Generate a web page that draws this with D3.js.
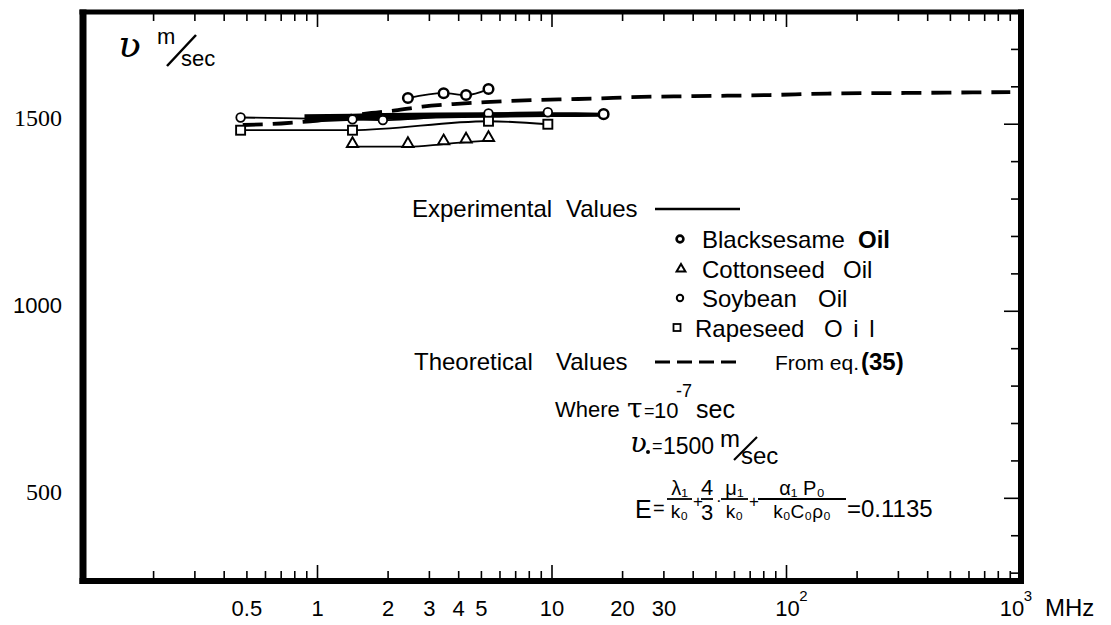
<!DOCTYPE html>
<html><head><meta charset="utf-8">
<script src="https://cdn.jsdelivr.net/npm/d3@7"></script>
<style>body{margin:0;background:#fff} svg{display:block}</style>
</head><body>
<svg id="c" width="1111" height="625"></svg>
<script>
// ---------------- data ----------------
const xTickLabels = [0.5, 1, 2, 3, 4, 5, 10, 20, 30];
const yTickLabels = [1500, 1000, 500];

// Theoretical values (dashed), frequency MHz / velocity m/sec
const theoF = [0.48, 0.7, 1.0, 1.3, 1.7, 2.15, 2.8, 3.8, 5.2, 6.5, 8.8, 12, 16, 21, 40, 85, 150, 400, 900];
const theoV = [1498, 1502, 1510, 1520, 1530, 1537, 1547, 1554, 1559, 1562, 1565, 1567, 1569, 1572, 1575, 1578, 1582, 1584, 1586];

// Experimental values
const blackF = [2.43, 3.45, 4.3, 5.36];
const blackV = [1570, 1583, 1578, 1594];
const blackHighF = [16.6];
const blackHighV = [1527];
const cottonF = [1.41, 2.43, 3.45, 4.3, 5.36];
const cottonV = [1440, 1440, 1447, 1452, 1456];
const soyF = [0.47, 1.41, 1.9, 5.36, 9.6];
const soyV = [1518, 1513, 1511, 1529, 1532];
const rapeF = [0.47, 1.41, 5.36, 9.6];
const rapeV = [1484, 1484, 1508, 1500];
// heavy overlapping experimental curves (band)
const bandF = [0.88, 1.41, 1.9, 5.36, 9.6, 16.6];
const bandTop = [1527, 1528, 1530, 1532, 1532, 1531];
const bandBottom = [1504, 1509, 1512, 1517, 1519, 1520];

// ---------------- chart ----------------
const svg = d3.select('#c');
svg.append('rect').attr('width', 1111).attr('height', 625).attr('fill', '#fff');

const x = d3.scaleLog().domain([0.1, 1000]).range([83, 1021]);
const y = d3.scaleLinear().domain([279, 1800]).range([581, 12]);

const SANS = "'Liberation Sans', Arial, sans-serif";
const SERIF = "'Liberation Serif', 'Times New Roman', serif";

const L = x(0.1), R = x(1000), T = y(1800), B = y(279);
// frame drawn as filled bars
const frame = svg.append('g').attr('fill', '#000');
frame.append('rect').attr('x', L - 3.5).attr('y', T - 2.5).attr('width', 7).attr('height', B - T + 5.5);
frame.append('rect').attr('x', L - 3.5).attr('y', T - 2.5).attr('width', R - L + 6.5).attr('height', 5);
frame.append('rect').attr('x', R - 3).attr('y', T - 2.5).attr('width', 6).attr('height', B - T + 5.5);
frame.append('rect').attr('x', L - 3.5).attr('y', B - 3).attr('width', R - L + 6.5).attr('height', 6);

// log ticks top & bottom
const minor = [];
[0.1, 1, 10, 100].forEach(d => { for (let k = 2; k <= 9; k++) minor.push(d * k); });
const major = [1, 10, 100];
const tg = svg.append('g').attr('stroke', '#000').attr('stroke-width', 1.6);
tg.selectAll('.bm').data(minor).join('line')
  .attr('x1', d => x(d)).attr('x2', d => x(d)).attr('y1', B - 3).attr('y2', B - 10);
tg.selectAll('.bM').data(major).join('line')
  .attr('x1', d => x(d)).attr('x2', d => x(d)).attr('y1', B - 3).attr('y2', B - 16);
tg.selectAll('.tm').data(minor).join('line')
  .attr('x1', d => x(d)).attr('x2', d => x(d)).attr('y1', T + 2).attr('y2', T + 9);
tg.selectAll('.tM').data(major).join('line')
  .attr('x1', d => x(d)).attr('x2', d => x(d)).attr('y1', T + 2).attr('y2', T + 15);
// right side ticks
const rTicks = d3.range(300, 1800, 100);
tg.selectAll('.rt').data(rTicks).join('line')
  .attr('x1', R - 2).attr('x2', d => (d % 500 === 0) ? R - 17 : R - 10)
  .attr('y1', d => y(d)).attr('y2', d => y(d));

// x tick labels
const xl = svg.append('g').attr('font-family', SANS).attr('font-size', 22).attr('text-anchor', 'middle');
xl.selectAll('text').data(xTickLabels).join('text')
  .attr('x', d => x(d)).attr('y', 616).text(d => String(d));
xl.append('text').attr('x', x(100) + 1).attr('y', 616).text('10');
xl.append('text').attr('x', x(100) + 17).attr('y', 601).attr('font-size', 15).text('2');
xl.append('text').attr('x', x(1000) - 9).attr('y', 616).text('10');
xl.append('text').attr('x', x(1000) + 7).attr('y', 601).attr('font-size', 15).text('3');
xl.append('text').attr('x', x(1000) + 24).attr('y', 616).attr('font-size', 24).attr('text-anchor', 'start').text('MHz');

// y tick labels
svg.append('g').attr('text-anchor', 'end')
  .selectAll('text').data(yTickLabels).join('text')
  .attr('font-family', d => d === 1000 ? SANS : SERIF)
  .attr('font-size', d => d === 1000 ? 22 : 24)
  .attr('x', 62).attr('y', d => y(d) + 2).text(d => d);

// axis title  ʋ m/sec
const at = svg.append('g').attr('font-family', SANS);
at.append('text').attr('x', 118).attr('y', 57).attr('font-size', 38).attr('font-family', "'DejaVu Serif', serif").attr('font-style', 'italic').text('ʋ');
at.append('text').attr('x', 157).attr('y', 44).attr('font-size', 22).text('m');
at.append('line').attr('x1', 167).attr('y1', 66).attr('x2', 196).attr('y2', 35).attr('stroke', '#000').attr('stroke-width', 2.5);
at.append('text').attr('x', 181).attr('y', 66).attr('font-size', 22).text('sec');

// ---------------- marks ----------------
const plot = svg.append('g');
const line = d3.line().x(d => x(d[0])).y(d => y(d[1])).curve(d3.curveMonotoneX);
const zip = (a, b) => a.map((v, i) => [v, b[i]]);

// thin experimental curves
[[soyF, soyV], [rapeF, rapeV], [cottonF, cottonV], [blackF, blackV]].forEach(([f, v]) => {
  plot.append('path').attr('d', line(zip(f, v))).attr('fill', 'none')
    .attr('stroke', '#000').attr('stroke-width', 1.8);
});
// heavy band
const area = d3.area().x(d => x(d[0])).y0(d => y(d[1])).y1(d => y(d[2])).curve(d3.curveMonotoneX);
plot.append('path').attr('d', area(bandF.map((f, i) => [f, bandBottom[i], bandTop[i]])))
  .attr('fill', '#000');

// theoretical dashed
plot.append('path').attr('d', line(zip(theoF, theoV))).attr('fill', 'none')
  .attr('stroke', '#000').attr('stroke-width', 3.8).attr('stroke-dasharray', '20 10');

// markers
const mk = svg.append('g').attr('fill', '#fff').attr('stroke', '#000');
mk.selectAll('.bc').data(zip(blackF, blackV).concat(zip(blackHighF, blackHighV))).join('circle')
  .attr('cx', d => x(d[0])).attr('cy', d => y(d[1])).attr('r', 4.8).attr('stroke-width', 2.5);
mk.selectAll('.sc').data(zip(soyF, soyV)).join('circle')
  .attr('cx', d => x(d[0])).attr('cy', d => y(d[1])).attr('r', 4.3).attr('stroke-width', 1.8);
mk.selectAll('.rs').data(zip(rapeF, rapeV)).join('rect')
  .attr('x', d => x(d[0]) - 4.5).attr('y', d => y(d[1]) - 4.5).attr('width', 9).attr('height', 9)
  .attr('stroke-width', 1.9);
const tri = d3.symbol().type(d3.symbolTriangle).size(55);
mk.selectAll('.ct').data(zip(cottonF, cottonV)).join('path')
  .attr('d', tri).attr('transform', d => `translate(${x(d[0])},${y(d[1]) - 3})`).attr('stroke-width', 1.9);

// ---------------- legend / annotations ----------------
const lg = svg.append('g').attr('font-family', SANS).attr('font-size', 24).attr('fill', '#000');
lg.append('text').attr('x', 412).attr('y', 217).text('Experimental');
lg.append('text').attr('x', 566).attr('y', 217).text('Values');
lg.append('line').attr('x1', 655).attr('x2', 740).attr('y1', 209).attr('y2', 209).attr('stroke', '#000').attr('stroke-width', 2.5);

const items = [
  {name: 'Blacksesame', oil: 'Oil', ox: 858, by: 248, m: 'bc'},
  {name: 'Cottonseed', oil: 'Oil', ox: 843, by: 278, m: 'tri'},
  {name: 'Soybean', oil: 'Oil', ox: 818, by: 307, m: 'sc'},
  {name: 'Rapeseed', oil: 'O i l', ox: 824, by: 337, m: 'sq'}
];
items.forEach(it => {
  const cy = it.by - 9;
  if (it.m === 'bc') lg.append('circle').attr('cx', 680).attr('cy', cy).attr('r', 3.4).attr('fill', '#fff').attr('stroke', '#000').attr('stroke-width', 2.6);
  if (it.m === 'sc') lg.append('circle').attr('cx', 680).attr('cy', cy).attr('r', 3.2).attr('fill', '#fff').attr('stroke', '#000').attr('stroke-width', 2);
  if (it.m === 'tri') lg.append('path').attr('d', d3.symbol().type(d3.symbolTriangle).size(34)()).attr('transform', `translate(681,${cy})`).attr('fill', '#fff').attr('stroke', '#000').attr('stroke-width', 2);
  if (it.m === 'sq') lg.append('rect').attr('x', 673.5).attr('y', cy - 4).attr('width', 7).attr('height', 7).attr('fill', '#fff').attr('stroke', '#000').attr('stroke-width', 1.8);
  lg.append('text').attr('x', it.m === 'sq' ? 695 : 702).attr('y', it.by).text(it.name);
  lg.append('text').attr('x', it.ox).attr('y', it.by).attr('font-weight', it.m === 'bc' ? 'bold' : 'normal')
    .attr('letter-spacing', it.m === 'sq' ? 2 : 0).text(it.oil);
});

lg.append('text').attr('x', 414).attr('y', 370).text('Theoretical');
lg.append('text').attr('x', 556).attr('y', 370).text('Values');
lg.append('line').attr('x1', 655).attr('x2', 740).attr('y1', 362).attr('y2', 362).attr('stroke', '#000').attr('stroke-width', 3).attr('stroke-dasharray', '15 7');
lg.append('text').attr('x', 775).attr('y', 370).attr('font-size', 21).text('From eq.');
lg.append('text').attr('x', 861).attr('y', 370).attr('font-weight', 'bold').text('(35)');

// Where tau = 10^-7 sec
const an = svg.append('g').attr('font-family', SANS).attr('fill', '#000');
an.append('text').attr('x', 555).attr('y', 417).attr('font-size', 22).text('Where');
an.append('text').attr('x', 627).attr('y', 418).attr('font-size', 28).attr('font-family', "'DejaVu Serif', serif").text('τ');
an.append('text').attr('x', 644).attr('y', 417).attr('font-size', 18).text('=');
an.append('text').attr('x', 654).attr('y', 418).attr('font-size', 22).text('10');
an.append('text').attr('x', 676).attr('y', 397).attr('font-size', 18).text('-7');
an.append('text').attr('x', 696).attr('y', 418).attr('font-size', 25).text('sec');

// v0 = 1500 m/sec
an.append('text').attr('x', 630).attr('y', 452).attr('font-size', 28).attr('font-family', "'DejaVu Serif', serif").attr('font-style', 'italic').text('ʋ');
an.append('circle').attr('cx', 648).attr('cy', 452).attr('r', 2).attr('fill', '#000');
an.append('text').attr('x', 652).attr('y', 452).attr('font-size', 18).text('=');
an.append('text').attr('x', 663).attr('y', 454).attr('font-size', 23).text('1500');
an.append('text').attr('x', 720).attr('y', 447).attr('font-size', 24).text('m');
an.append('line').attr('x1', 734).attr('y1', 460).attr('x2', 757).attr('y2', 437).attr('stroke', '#000').attr('stroke-width', 2.2);
an.append('text').attr('x', 741).attr('y', 464).attr('font-size', 24).text('sec');

// E formula
const fy = 499;
const frac = (x0, x1, num, den, fs) => {
  an.append('line').attr('x1', x0).attr('x2', x1).attr('y1', fy).attr('y2', fy).attr('stroke', '#000').attr('stroke-width', 1.8);
  an.append('text').attr('x', (x0 + x1) / 2).attr('y', fy - 4).attr('text-anchor', 'middle').attr('font-size', fs || 20).text(num);
  an.append('text').attr('x', (x0 + x1) / 2).attr('y', fy + (fs ? 21 : 19)).attr('text-anchor', 'middle').attr('font-size', fs || 19).text(den);
};
an.append('text').attr('x', 635).attr('y', 518).attr('font-size', 25).text('E');
an.append('text').attr('x', 653).attr('y', 515).attr('font-size', 20).text('=');
frac(667, 692, 'λ₁', 'k₀');
an.append('text').attr('x', 693).attr('y', 507).attr('font-size', 17).text('+');
frac(701, 713, '4', '3', 22);
an.append('text').attr('x', 716).attr('y', 506).attr('font-size', 17).text('·');
frac(721, 748, 'μ₁', 'k₀');
an.append('text').attr('x', 749).attr('y', 507).attr('font-size', 17).text('+');
frac(758, 846, 'α₁ P₀', 'k₀C₀ρ₀');
an.append('text').attr('x', 847).attr('y', 517).attr('font-size', 24).text('=0.1135');
</script>
</body></html>
